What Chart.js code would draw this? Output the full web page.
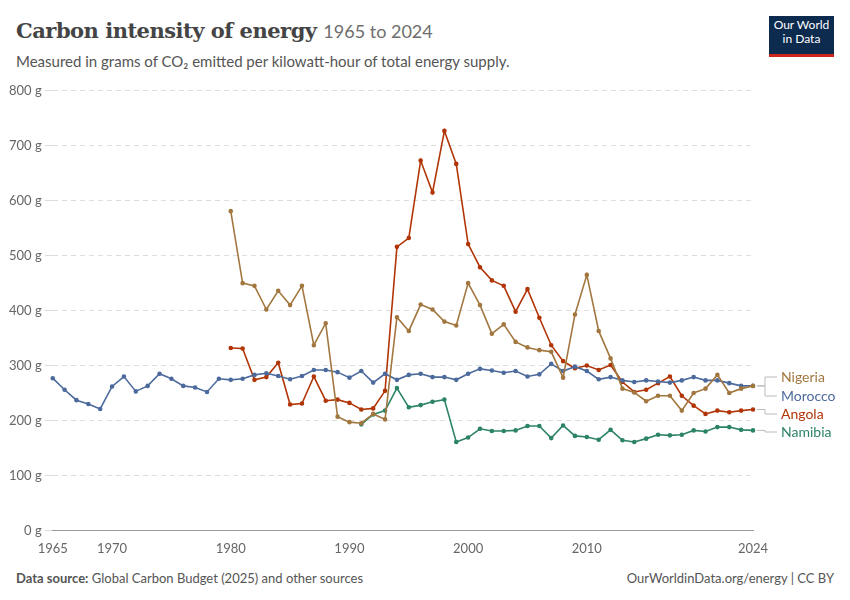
<!DOCTYPE html>
<html><head><meta charset="utf-8">
<script src="https://cdn.jsdelivr.net/npm/chart.js@4.4.1/dist/chart.umd.min.js"></script>
<style>
body{margin:0;width:850px;height:600px;background:#fff;font-family:Lato,sans-serif;position:relative;overflow:hidden}
#t{position:absolute;left:16px;top:18px;font-family:"DejaVu Serif",serif;font-weight:bold;font-size:21px;color:#444;letter-spacing:-0.5px}
#t span{font-family:Lato;font-weight:normal;font-size:18px;color:#6e6e6e;letter-spacing:0}
#s{position:absolute;left:16px;top:52px;font-size:15px;color:#555}
#logo{position:absolute;left:769px;top:16px;width:65px;height:36px;background:#0d2a4f;border-bottom:3px solid #ce261e;color:#fff;font-size:12px;text-align:center;line-height:14px;padding-top:2px}
#f1{position:absolute;left:16px;top:570px;font-size:13px;color:#555}
#f2{position:absolute;right:16px;top:570px;font-size:13px;color:#555}
#w{position:absolute;left:0;top:80px;width:850px;height:480px}
</style></head><body>
<div id="t">Carbon intensity of energy <span>1965 to 2024</span></div>
<div id="s">Measured in grams of CO₂ emitted per kilowatt-hour of total energy supply.</div>
<div id="logo">Our World<br>in Data</div>
<div id="f1"><b>Data source:</b> Global Carbon Budget (2025) and other sources</div>
<div id="f2">OurWorldinData.org/energy | CC BY</div>
<div id="w"><canvas id="c"></canvas></div>
<script>
const years = [];
for (let y = 1965; y <= 2024; y++) years.push(y);
const tickYears = [1965, 1970, 1980, 1990, 2000, 2010, 2024];
const morocco = [277,256,237,230,221,262,280,253,263,285,276,263,260,252,276,274,276,283,286,281,275,281,292,292,288,278,290,269,285,274,283,285,279,279,274,285,294,291,287,290,280,284,303,290,298,290,275,279,273,270,273,271,269,273,279,273,273,268,263,263];
const nigeria = [581,450,445,402,436,410,445,337,377,207,197,195,212,202,388,363,411,402,380,373,450,410,358,375,343,333,328,325,278,393,465,363,313,258,251,235,245,245,218,250,258,283,250,258,263];
const angola = [332,331,274,279,305,229,231,280,236,238,232,220,222,254,516,532,673,615,727,667,521,479,455,445,398,439,387,337,308,295,300,292,301,270,252,256,268,280,245,227,212,218,215,218,220];
const namibia = [193,211,218,259,224,228,234,238,161,169,185,181,181,182,190,190,168,191,172,170,165,183,164,161,167,174,173,174,182,180,188,188,183,182];
function pad(arr, start){ return years.map(y => y < start ? null : arr[y - start]); }
const series = [
  {name:'Nigeria', data:pad(nigeria,1980), color:'#a2773f', ly:297},
  {name:'Morocco', data:morocco, color:'#4c6a9c', ly:316},
  {name:'Angola', data:pad(angola,1980), color:'#b13507', ly:334},
  {name:'Namibia', data:pad(namibia,1991), color:'#2c8465', ly:352}
];
const labels = {
  id:'labels',
  afterDraw(chart){
    const c = chart.ctx, xs = chart.scales.x, ys = chart.scales.y;
    c.save(); c.font = '14px Lato'; c.textBaseline = 'middle';
    const x0 = xs.getPixelForValue(years.length-1) + 4;
    series.forEach(s => {
      const py = ys.getPixelForValue(s.data[s.data.length-1]);
      c.strokeStyle = '#bbb'; c.lineWidth = 1;
      c.beginPath(); c.moveTo(x0, py); c.lineTo(x0+8, py); c.lineTo(x0+8, s.ly); c.lineTo(x0+20, s.ly); c.stroke();
      c.fillStyle = s.color; c.fillText(s.name, x0+24, s.ly);
    });
    c.restore();
  }
};
new Chart(document.getElementById('c'), {
  type:'line',
  data:{labels:years, datasets:series.map(s => ({label:s.name, data:s.data, borderColor:s.color, backgroundColor:s.color, borderWidth:1.6, pointRadius:1.5, pointHoverRadius:0, spanGaps:false}))},
  options:{
    responsive:true, maintainAspectRatio:false, animation:false,
    layout:{padding:{left:6, right:97, top:8}},
    plugins:{legend:{display:false}, tooltip:{enabled:false}},
    scales:{
      x:{grid:{display:false}, border:{color:'#999'},
        ticks:{autoSkip:false, maxRotation:0, color:'#666', font:{family:'Lato', size:13},
          callback:(v,i) => tickYears.includes(years[i]) ? years[i] : null}},
      y:{min:0, max:800, border:{display:false, dash:[5,4]},
        grid:{color:'#ddd'},
        ticks:{stepSize:100, color:'#666', font:{family:'Lato', size:13}, callback:v => v + ' g'}}
    }
  },
  plugins:[labels]
});
</script>
</body></html>
